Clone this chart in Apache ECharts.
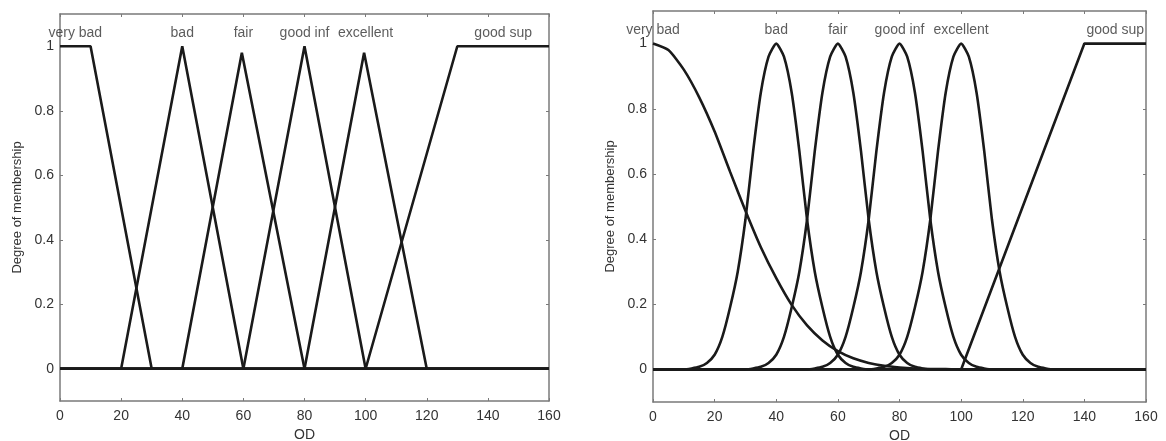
<!DOCTYPE html>
<html>
<head>
<meta charset="utf-8">
<script src="https://cdn.jsdelivr.net/npm/echarts@6/dist/echarts.min.js"></script>
<style>
  html, body { margin: 0; background: #fff; }
  #chart { width: 1166px; height: 441px; }
</style>
</head>
<body>
<div id="chart"></div>
<script>
// membership function names, same in both panels
const mfNames = ['very bad', 'bad', 'fair', 'good inf', 'excellent', 'good sup']

// left panel: trapezoid / triangle mfs, [OD, degree]
const trapVeryBad = [[0, 1], [10, 1], [30, 0], [160, 0]]
const trapBad = [[0, 0], [20, 0], [40, 1], [60, 0], [160, 0]]
const trapFair = [[0, 0], [40, 0], [59.5, 0.98], [80, 0], [160, 0]]
const trapGoodInf = [[0, 0], [60, 0], [80, 1], [100, 0], [160, 0]]
const trapExcellent = [[0, 0], [80, 0], [99.5, 0.98], [120, 0], [160, 0]]
const trapGoodSup = [[0, 0], [100, 0], [130, 1], [160, 1]]
const trapLabelX = [5, 40, 60, 80, 100, 145]

// right panel: gaussian mfs, [OD, degree]
const gaussVeryBad = [[0, 1], [5, 0.98], [10, 0.92], [15, 0.835], [20, 0.73], [25, 0.607], [30, 0.487],
  [35, 0.375], [40, 0.28], [45, 0.198], [50, 0.135], [55, 0.089], [60, 0.056], [65, 0.034], [70, 0.02],
  [75, 0.011], [80, 0.006], [85, 0.003], [90, 0.0015], [95, 0.001], [100, 0], [160, 0]]
const gaussBad = [[0, 0], [10, 0], [12.5, 0.003], [15, 0.008], [17.5, 0.02], [20, 0.045], [22.5, 0.1],
  [25, 0.19], [27.5, 0.3], [30, 0.46], [32.5, 0.67], [35, 0.85], [37.5, 0.96], [40, 1], [42.5, 0.96],
  [45, 0.85], [47.5, 0.67], [50, 0.46], [52.5, 0.3], [55, 0.19], [57.5, 0.1], [60, 0.045], [62.5, 0.02],
  [65, 0.008], [67.5, 0.003], [70, 0], [160, 0]]
const gaussFair = [[0, 0], [30, 0], [32.5, 0.003], [35, 0.008], [37.5, 0.02], [40, 0.045], [42.5, 0.1],
  [45, 0.19], [47.5, 0.3], [50, 0.46], [52.5, 0.67], [55, 0.85], [57.5, 0.96], [60, 1], [62.5, 0.96],
  [65, 0.85], [67.5, 0.67], [70, 0.46], [72.5, 0.3], [75, 0.19], [77.5, 0.1], [80, 0.045], [82.5, 0.02],
  [85, 0.008], [87.5, 0.003], [90, 0], [160, 0]]
const gaussGoodInf = [[0, 0], [50, 0], [52.5, 0.003], [55, 0.008], [57.5, 0.02], [60, 0.045], [62.5, 0.1],
  [65, 0.19], [67.5, 0.3], [70, 0.46], [72.5, 0.67], [75, 0.85], [77.5, 0.96], [80, 1], [82.5, 0.96],
  [85, 0.85], [87.5, 0.67], [90, 0.46], [92.5, 0.3], [95, 0.19], [97.5, 0.1], [100, 0.045], [102.5, 0.02],
  [105, 0.008], [107.5, 0.003], [110, 0], [160, 0]]
const gaussExcellent = [[0, 0], [70, 0], [72.5, 0.003], [75, 0.008], [77.5, 0.02], [80, 0.045], [82.5, 0.1],
  [85, 0.19], [87.5, 0.3], [90, 0.46], [92.5, 0.67], [95, 0.85], [97.5, 0.96], [100, 1], [102.5, 0.96],
  [105, 0.85], [107.5, 0.67], [110, 0.46], [112.5, 0.3], [115, 0.19], [117.5, 0.1], [120, 0.045], [122.5, 0.02],
  [125, 0.008], [127.5, 0.003], [130, 0], [160, 0]]
const gaussGoodSup = [[0, 0], [100, 0], [140, 1], [160, 1]]
const gaussLabelX = [0, 40, 60, 80, 100, 150]

const yTicks = [0, 0.2, 0.4, 0.6, 0.8, 1]

const FONT = '"Liberation Sans", Arial, sans-serif'
const frameColor = '#7a7a7a'
const textColor = '#333'
const labelY = 1.04

const panels = [
  { curves: [trapVeryBad, trapBad, trapFair, trapGoodInf, trapExcellent, trapGoodSup], labelX: trapLabelX,
    grid: { left: 60, right: 617, top: 14, height: 387, outerBoundsMode: 'none' },
    smooth: [false, false, false, false, false, false] },
  { curves: [gaussVeryBad, gaussBad, gaussFair, gaussGoodInf, gaussExcellent, gaussGoodSup], labelX: gaussLabelX,
    grid: { left: 653, right: 20, top: 11, height: 391, outerBoundsMode: 'none' },
    smooth: [0.2, 0.2, 0.2, 0.2, 0.2, false] }
]

const chart = echarts.init(document.getElementById('chart'))

let option = { animation: false, grid: [], xAxis: [], yAxis: [], series: [] }

panels.forEach((p, i) => {
  option.grid.push(p.grid)

  // onZero off, otherwise the frame gets pulled to y=0 / x=0
  const axisLine = { show: true, onZero: false, lineStyle: { color: frameColor, width: 1.5 } }
  const tick = { show: true, inside: true, length: 3, lineStyle: { color: frameColor } }

  // bottom + mirrored top
  option.xAxis.push({
    type: 'value', gridIndex: i, min: 0, max: 160, interval: 20,
    name: 'OD', nameLocation: 'middle', nameGap: 27,
    nameTextStyle: { fontFamily: FONT, fontSize: 14, color: textColor },
    axisLine, axisTick: tick, splitLine: { show: false },
    axisLabel: { fontFamily: FONT, fontSize: 14, color: textColor, margin: 8 }
  })
  option.xAxis.push({
    type: 'value', gridIndex: i, position: 'top', min: 0, max: 160, interval: 20,
    axisLine, axisTick: tick, splitLine: { show: false }, axisLabel: { show: false }
  })

  // left + mirrored right
  option.yAxis.push({
    type: 'value', gridIndex: i, min: -0.1, max: 1.1,
    name: 'Degree of membership', nameLocation: 'middle', nameGap: 36,
    nameTextStyle: { fontFamily: FONT, fontSize: 13, color: textColor },
    axisLine, axisTick: Object.assign({ customValues: yTicks }, tick), splitLine: { show: false },
    axisLabel: { customValues: yTicks, fontFamily: FONT, fontSize: 14, color: textColor, margin: 6 }
  })
  option.yAxis.push({
    type: 'value', gridIndex: i, position: 'right', min: -0.1, max: 1.1,
    axisLine, axisTick: Object.assign({ customValues: yTicks }, tick), splitLine: { show: false },
    axisLabel: { show: false }
  })

  p.curves.forEach((c, k) => {
    option.series.push({
      type: 'line', xAxisIndex: i * 2, yAxisIndex: i * 2,
      data: c, showSymbol: false, symbol: 'none', smooth: p.smooth[k],
      lineStyle: { color: '#1a1a1a', width: 2.6 }
    })
  })

  // mf names above the curves
  option.series.push({
    type: 'scatter', xAxisIndex: i * 2, yAxisIndex: i * 2, symbolSize: 0, clip: false,
    data: p.labelX.map((x, k) => [x, labelY, mfNames[k]]),
    label: {
      show: true, position: 'inside', formatter: d => d.value[2],
      fontFamily: FONT, fontSize: 14, color: textColor
    }
  })
})

chart.setOption(option)
</script>
</body>
</html>
